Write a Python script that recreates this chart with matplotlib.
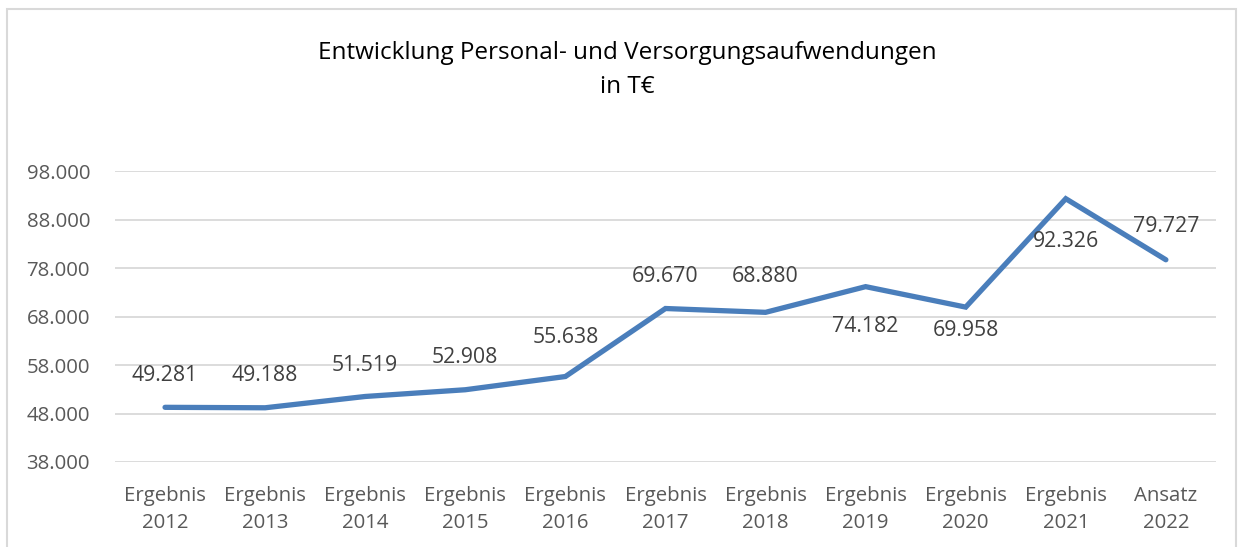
import matplotlib.pyplot as plt
from matplotlib.patches import Rectangle

plt.rcParams['font.family'] = ['Open Sans', 'DejaVu Sans']

# Data
categories = ['Ergebnis\n2012', 'Ergebnis\n2013', 'Ergebnis\n2014', 'Ergebnis\n2015',
              'Ergebnis\n2016', 'Ergebnis\n2017', 'Ergebnis\n2018', 'Ergebnis\n2019',
              'Ergebnis\n2020', 'Ergebnis\n2021', 'Ansatz\n2022']
values = [49281, 49188, 51519, 52908, 55638, 69670, 68880, 74182, 69958, 92326, 79727]
# label offsets from the point in pixels (positive = above)
label_dy = [32, 32, 31, 32, 39, 32, 36, -40, -23, -43, 33]
yticks = [38000, 48000, 58000, 68000, 78000, 88000, 98000]


def fmt(v):
    return f'{v:,}'.replace(',', '.')


fig = plt.figure(figsize=(12.42, 5.47), dpi=100)
ax = fig.add_axes([0.0926, 0.1554, 0.8864, 0.5316])

# Chart border
fig.add_artist(Rectangle((7 / 1242, -0.1), 1229 / 1242, 1 - 9 / 547 + 0.1,
                         transform=fig.transFigure, fill=False,
                         edgecolor='#d9d9d9', lw=1.5))

x = list(range(len(values)))
ax.plot(x, values, color='#4a7ebb', lw=3.8, solid_capstyle='round',
        solid_joinstyle='miter', zorder=3)

for xi, v, dy in zip(x, values, label_dy):
    ax.annotate(fmt(v), (xi, v), xytext=(0, dy), textcoords='offset pixels',
                ha='center', va='center', fontsize=15.3, color='#404040')

ax.set_xlim(-0.5, len(values) - 0.5)
ax.set_ylim(38000, 98000)
ax.set_yticks(yticks)
ax.set_yticklabels([fmt(t) for t in yticks])
ax.set_xticks(x)
ax.set_xticklabels(categories, linespacing=1.5)

ax.grid(axis='y', color='#d9d9d9', lw=1.3)
ax.set_axisbelow(True)
for s in ax.spines.values():
    s.set_visible(False)
ax.tick_params(axis='both', length=0, labelsize=14.7, labelcolor='#595959')
ax.tick_params(axis='y', pad=18)
ax.tick_params(axis='x', pad=17)

fig.text(0.505, 1 - 70 / 547, 'Entwicklung Personal- und Versorgungsaufwendungen\nin T€',
         ha='center', va='center', fontsize=17.5, color='#000000', linespacing=1.6)

fig.savefig('out.png', dpi=100)
